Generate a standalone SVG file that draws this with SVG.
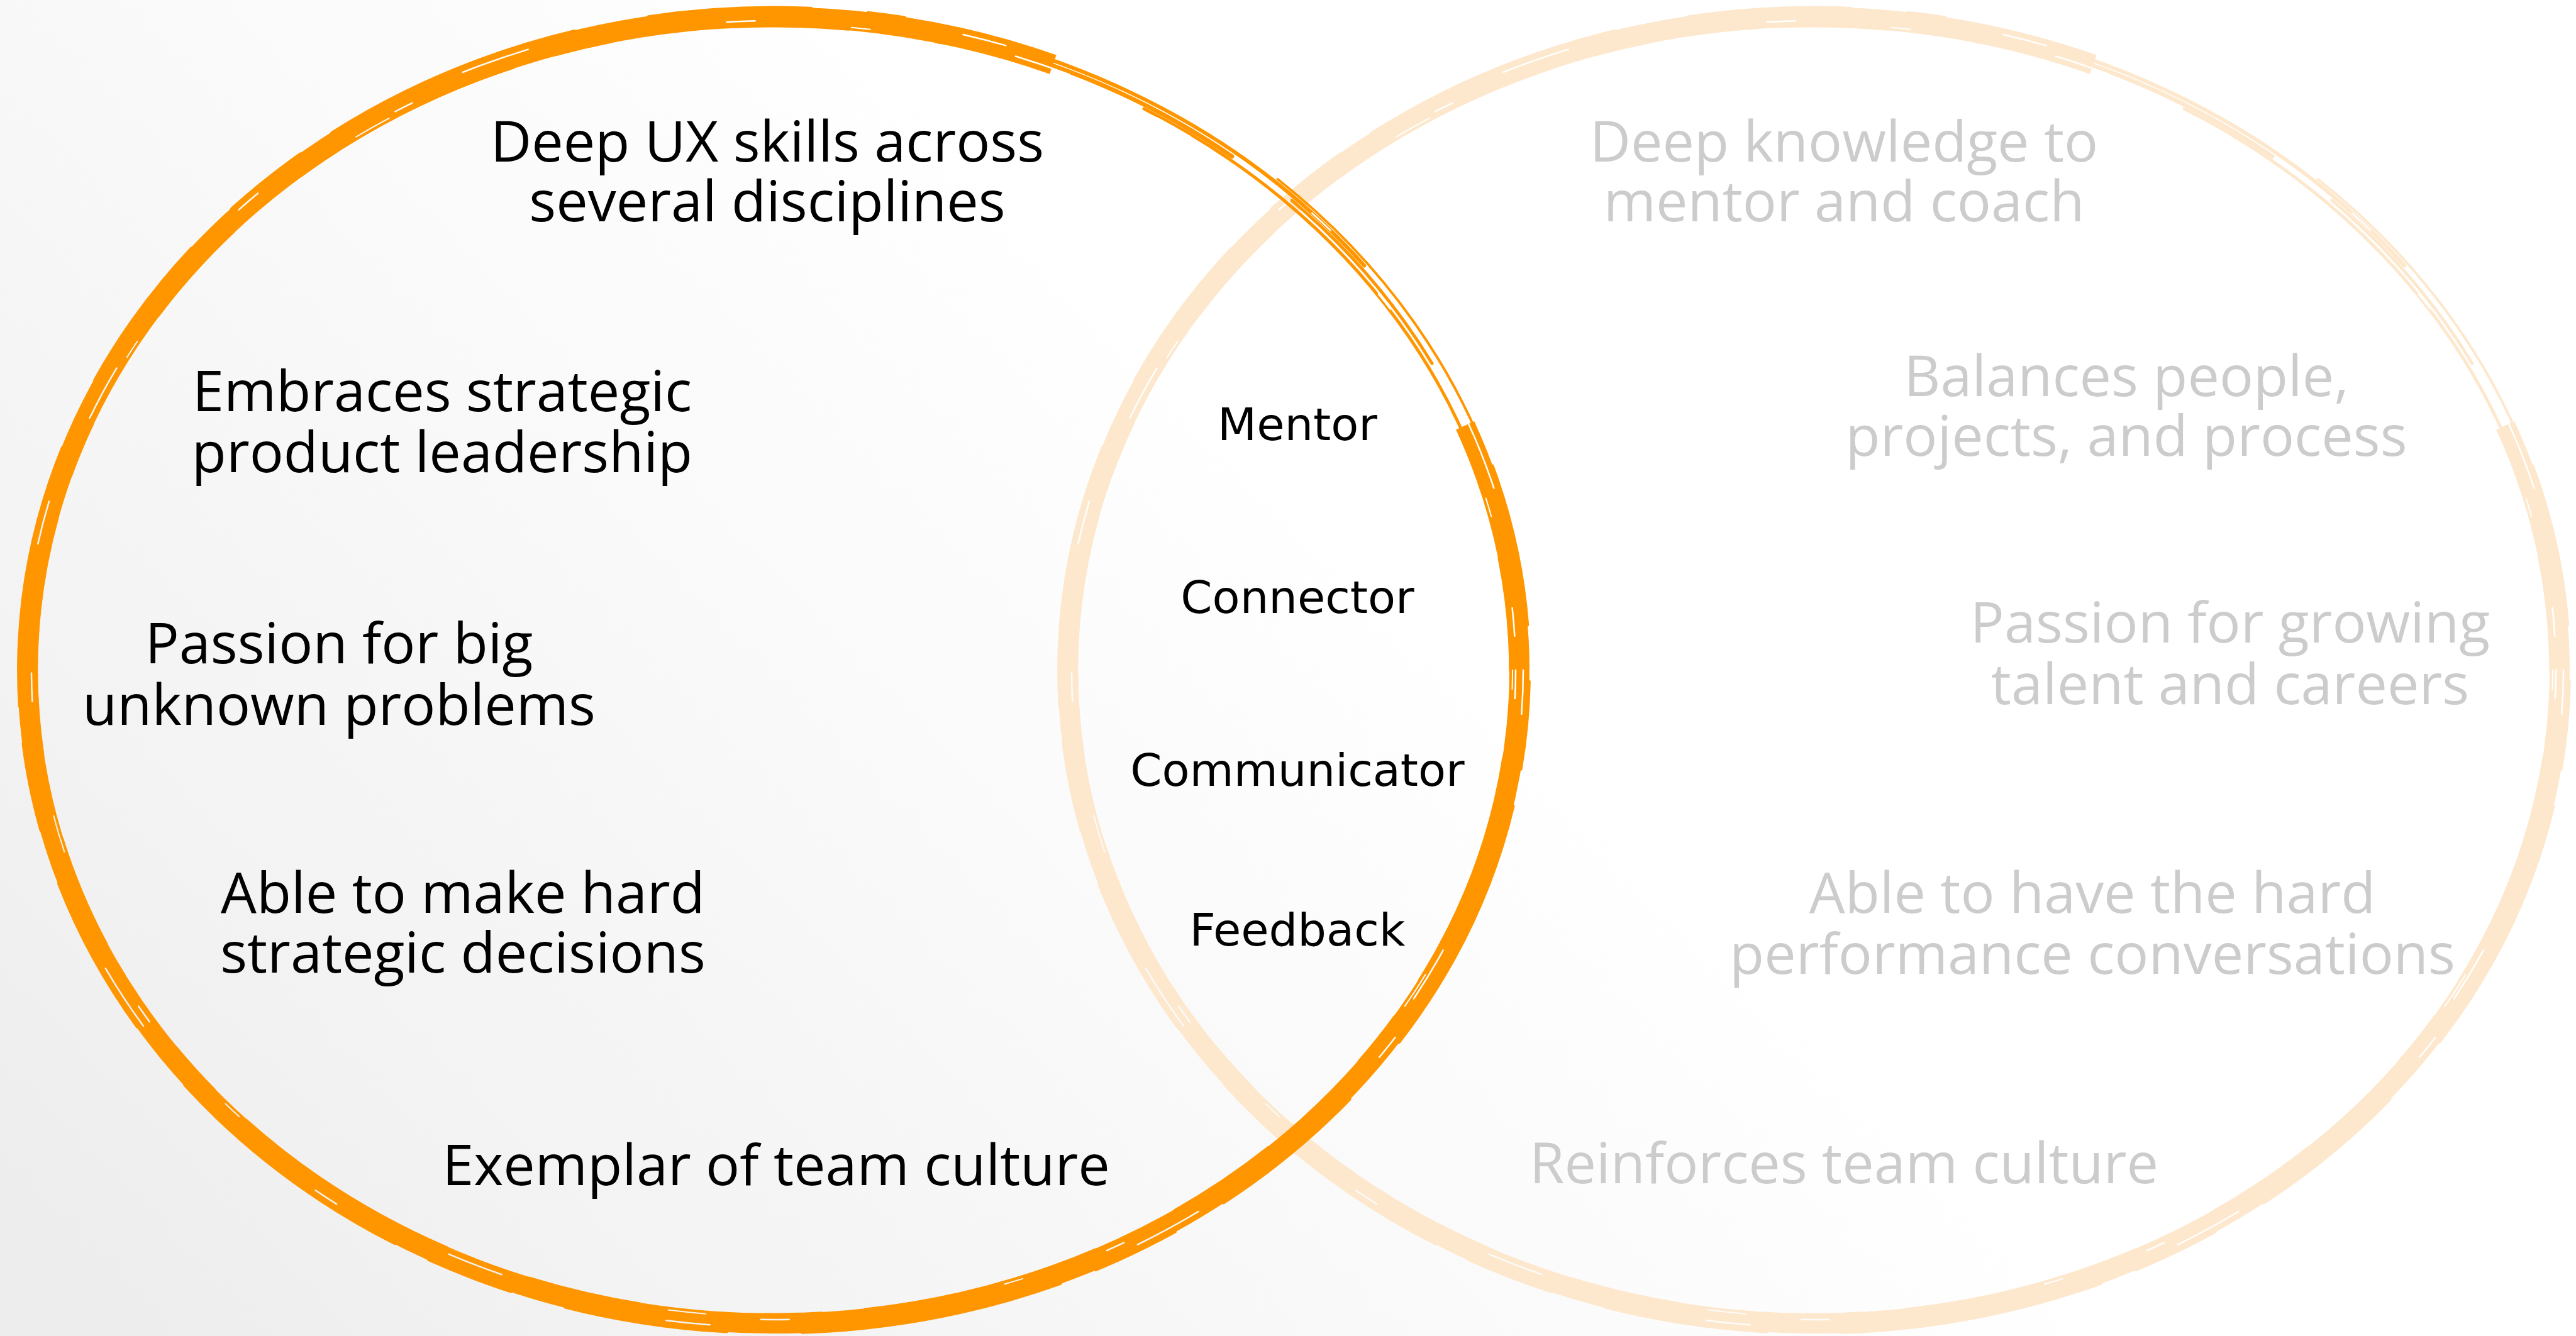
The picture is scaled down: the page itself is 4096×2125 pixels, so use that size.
<svg xmlns="http://www.w3.org/2000/svg" xmlns:xlink="http://www.w3.org/1999/xlink" width="4096" height="2125" viewBox="0 0 4096 2125">
  <defs>
    <linearGradient id="bg" gradientUnits="userSpaceOnUse" x1="0" y1="2125" x2="2200" y2="0">
      <stop offset="0" stop-color="#ECECEC"/>
      <stop offset="0.3" stop-color="#F4F4F4"/>
      <stop offset="0.65" stop-color="#FCFCFC"/>
      <stop offset="0.8" stop-color="#FFFFFF"/>
    </linearGradient>
    <!-- thin streaks left unpainted inside the brush stroke -->
    <mask id="brush-gaps" maskUnits="userSpaceOnUse" x="-1300" y="-1150" width="2600" height="2300">
      <rect x="-1300" y="-1150" width="2600" height="2300" fill="#fff"/>
      <g fill="none" stroke="#000" stroke-width="2.5" stroke-linecap="round">
        <ellipse rx="1180" ry="1033" stroke-dasharray="45 420 90 610 30 520"/>
        <ellipse rx="1192" ry="1045" stroke-dasharray="70 560 40 380 110 700"/>
        <ellipse rx="1175" ry="1028" stroke-width="2" stroke-dasharray="30 480 60 760"/>
      </g>
    </mask>
    <!-- hand-painted ring, centred on the origin; colour comes from currentColor -->
    <g id="brush" fill="none" stroke="currentColor" mask="url(#brush-gaps)">
      <path d="M1099.6 -389.2 A1186 1039 0 1 1 444.3 -963.3" stroke-width="32"/>
      <path d="M1160 -216 A1186 1039 0 1 1 246.6 -1016.3" stroke-width="20" stroke-linecap="round"/>
      <path d="M1179.5 -108.6 A1186 1039 0 1 1 123.9 -1033.3" stroke-width="10" stroke-linecap="round"/>
      <path d="M1122 358.1 A1194 1047 0 0 1 -1175.8 181.8" stroke-width="14" stroke-linecap="round"/>
      <path d="M1137.8 -266.8 A1178 1031 0 0 1 589 892.9" stroke-width="12" stroke-linecap="round"/>
      <!-- ragged bristle edges -->
      <path d="M1143 -325 A1201 1054 0 1 1 208.5 -1038" stroke-width="5" stroke-linecap="round" stroke-dasharray="260 90 140 60 420 120"/>
      <path d="M1154 -178 A1172 1025 0 1 1 263.7 -998.7" stroke-width="5" stroke-linecap="round" stroke-dasharray="180 140 380 70 90 200"/>
      <!-- dry-brush strands where the stroke starts and ends -->
      <g stroke-linecap="round">
        <path d="M103.9 -1041 A1192 1045 0 0 1 939.3 -643.4" stroke-width="6"/>
        <path d="M589 -892.9 A1178 1031 0 0 1 1173.5 -89.9" stroke-width="5"/>
        <path d="M801.6 -781 A1198 1051 0 0 1 1157.2 -272" stroke-width="4"/>
        <path d="M-103.2 -1033.1 A1184 1037 0 0 1 729 -817.2" stroke-width="7"/>
        <path d="M823.9 -747.4 A1186 1039 0 0 1 1047.1 -487.8" stroke-width="5"/>
      </g>
    </g>
    <style>
      .lead { font-family: "Open Sans", "Noto Sans", sans-serif; font-size: 90px; fill: #000000; text-anchor: middle; }
      .mgr { font-family: "Open Sans", "Noto Sans", sans-serif; font-size: 90px; fill: #CCCCCC; text-anchor: middle; }
      .core { font-family: "DejaVu Sans", Verdana, sans-serif; font-size: 72px; fill: #000000; text-anchor: middle; }
    </style>
  </defs>

  <rect width="4096" height="2125" fill="url(#bg)"/>

  <!-- rings: the pale one first, the orange one painted over it -->
  <g id="manager-circle">
    <use xlink:href="#brush" href="#brush" transform="translate(2884 1066)" style="color:#FDE8CD"/>
  </g>
  <g id="lead-circle">
    <use xlink:href="#brush" href="#brush" transform="translate(1230 1066)" style="color:#FF9600"/>
  </g>

  <g id="lead-traits">
    <g id="lead-ux"><text class="lead" x="1220" y="257">Deep UX skills across</text><text class="lead" x="1220" y="352">several disciplines</text></g>
    <g id="lead-strategy"><text class="lead" x="703" y="654">Embraces strategic</text><text class="lead" x="703" y="751">product leadership</text></g>
    <g id="lead-passion"><text class="lead" x="539" y="1055">Passion for big</text><text class="lead" x="539" y="1153">unknown problems</text></g>
    <g id="lead-decisions"><text class="lead" x="736" y="1452">Able to make hard</text><text class="lead" x="736" y="1547">strategic decisions</text></g>
    <g id="lead-culture"><text class="lead" x="1234" y="1885">Exemplar of team culture</text></g>
  </g>

  <g id="shared-traits">
    <g id="shared-mentor"><text class="core" x="2063" y="700">Mentor</text></g>
    <g id="shared-connector"><text class="core" x="2063" y="975">Connector</text></g>
    <g id="shared-communicator"><text class="core" x="2063" y="1250">Communicator</text></g>
    <g id="shared-feedback"><text class="core" x="2063" y="1504">Feedback</text></g>
  </g>

  <g id="manager-traits">
    <g id="mgr-knowledge"><text class="mgr" x="2932" y="257">Deep knowledge to</text><text class="mgr" x="2932" y="352">mentor and coach</text></g>
    <g id="mgr-balance"><text class="mgr" x="3381" y="630">Balances people,</text><text class="mgr" x="3381" y="725">projects, and process</text></g>
    <g id="mgr-growth"><text class="mgr" x="3546" y="1022">Passion for growing</text><text class="mgr" x="3546" y="1120">talent and careers</text></g>
    <g id="mgr-performance"><text class="mgr" x="3327" y="1452">Able to have the hard</text><text class="mgr" x="3327" y="1549">performance conversations</text></g>
    <g id="mgr-culture"><text class="mgr" x="2932" y="1882">Reinforces team culture</text></g>
  </g>
</svg>
